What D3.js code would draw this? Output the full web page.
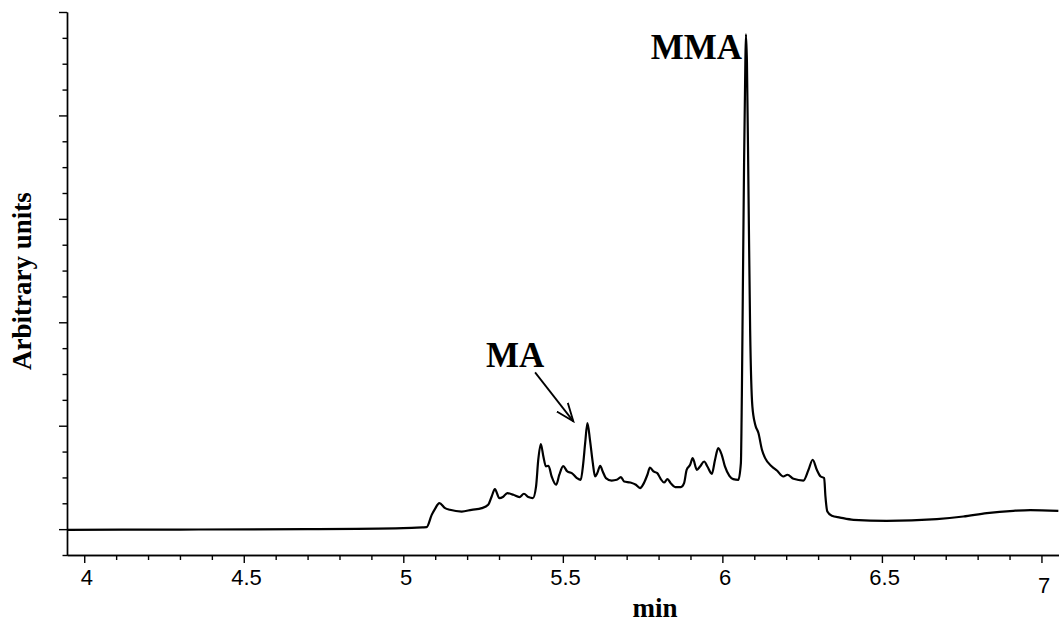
<!DOCTYPE html>
<html>
<head>
<meta charset="utf-8">
<script src="https://cdn.jsdelivr.net/npm/d3@7"></script>
<style>
  body { margin: 0; background: #fff; }
  svg { display: block; }
  .axis path, .axis line { stroke: #000; stroke-width: 1.4; }
  .axis text { font-family: "Liberation Sans", Arial, sans-serif; font-size: 22px; fill: #000; }
  .title { font-family: "Liberation Serif", "Times New Roman", serif; font-weight: bold; fill: #000; }
</style>
</head>
<body>
<div class="container"></div>
<script>
// retention time (min)
var times = [3.946, 4.3, 4.7, 5.0, 5.06, 5.073, 5.089, 5.099, 5.113, 5.131, 5.146, 5.183, 5.214, 5.246,
  5.266, 5.277, 5.287, 5.301, 5.312, 5.326, 5.345, 5.364, 5.378, 5.392, 5.406, 5.416, 5.423, 5.431,
  5.439, 5.447, 5.455, 5.465, 5.479, 5.489, 5.501, 5.514, 5.528, 5.544, 5.556, 5.564, 5.570, 5.577,
  5.585, 5.594, 5.601, 5.608, 5.617, 5.625, 5.635, 5.653, 5.669, 5.682, 5.692, 5.711, 5.729, 5.742,
  5.754, 5.765, 5.773, 5.784, 5.796, 5.807, 5.817, 5.828, 5.838, 5.852, 5.870, 5.880, 5.888, 5.899,
  5.907, 5.920, 5.930, 5.943, 5.953, 5.967, 5.977, 5.987, 5.998, 6.008, 6.022, 6.034, 6.050, 6.058,
  6.061, 6.064, 6.068, 6.072, 6.074, 6.077, 6.082, 6.087, 6.094, 6.103, 6.113, 6.124, 6.134, 6.155,
  6.171, 6.191, 6.204, 6.223, 6.254, 6.270, 6.283, 6.296, 6.308, 6.319, 6.323, 6.329, 6.343, 6.369,
  6.411, 6.515, 6.672, 6.755, 6.829, 6.912, 6.965, 7.053];
// detector signal (arbitrary units)
var signal = [-0.007, -0.004, 0.0, 0.01, 0.017, 0.019, 0.138, 0.194, 0.252, 0.203, 0.187, 0.170, 0.187, 0.203,
  0.235, 0.316, 0.387, 0.300, 0.310, 0.349, 0.332, 0.310, 0.342, 0.310, 0.300, 0.412, 0.671, 0.823,
  0.703, 0.606, 0.613, 0.509, 0.429, 0.526, 0.610, 0.558, 0.542, 0.494, 0.477, 0.639, 0.833, 1.026,
  0.864, 0.639, 0.509, 0.542, 0.613, 0.558, 0.494, 0.470, 0.477, 0.503, 0.461, 0.451, 0.429, 0.397,
  0.445, 0.526, 0.596, 0.558, 0.542, 0.484, 0.451, 0.484, 0.445, 0.407, 0.407, 0.445, 0.574, 0.622,
  0.687, 0.574, 0.606, 0.654, 0.606, 0.535, 0.671, 0.784, 0.719, 0.606, 0.516, 0.484, 0.477, 0.639,
  1.284, 2.252, 3.543, 4.511, 4.785, 4.511, 3.220, 1.929, 1.187, 1.010, 0.929, 0.768, 0.687, 0.606,
  0.567, 0.509, 0.526, 0.487, 0.470, 0.574, 0.671, 0.574, 0.509, 0.494, 0.316, 0.170, 0.129, 0.112,
  0.090, 0.080, 0.097, 0.122, 0.155, 0.177, 0.184, 0.177];

var xTickLabels = [4, 4.5, 5, 5.5, 6, 6.5, 7];
var yMajorTicks = [0, 1, 2, 3, 4, 5];

var peakNames = ["MMA", "MA"];
var peakLabelTime = [6.062, 5.259];
var peakLabelValue = [4.543, 1.571];
var arrowFrom = [5.413, 1.516];
var arrowTo = [5.533, 1.042];

var loadChart = function () {
  var width = 1059, height = 624;
  var left = 67, right = 1059, top = 12, bottom = 555;

  var x = d3.scaleLinear().domain([3.946, 7.055]).range([left, right]);
  var y = d3.scaleLinear().domain([-0.25, 5]).range([bottom, top]);

  var svg = d3.select('.container')
    .append('svg')
    .attr('width', width)
    .attr('height', height);

  // minor x ticks
  var xMinor = d3.range(40, 71).map(function (d) { return d / 10; })
    .filter(function (d) { return xTickLabels.indexOf(d) < 0; });
  svg.append('g')
    .attr('class', 'axis')
    .attr('transform', 'translate(0,' + bottom + ')')
    .call(d3.axisBottom(x).tickValues(xMinor).tickSize(5).tickSizeOuter(0).tickFormat(''));

  var xAxis = svg.append('g')
    .attr('class', 'axis')
    .attr('transform', 'translate(0,' + bottom + ')')
    .call(d3.axisBottom(x).tickValues(xTickLabels).tickSize(8).tickSizeOuter(0)
      .tickPadding(6).tickFormat(d3.format('')));
  xAxis.selectAll('.tick text').attr('dx', '0.1em');
  xAxis.selectAll('.tick').filter(function (d) { return d === 7; })
    .select('text').attr('dy', '1.1em');

  // y axis, no labels
  var yMinor = d3.range(-1, 21).map(function (d) { return d / 4; })
    .filter(function (d) { return yMajorTicks.indexOf(d) < 0; });
  svg.append('g')
    .attr('class', 'axis')
    .attr('transform', 'translate(' + left + ',0)')
    .call(d3.axisLeft(y).tickValues(yMinor).tickSize(4.5).tickSizeOuter(0).tickFormat(''));
  svg.append('g')
    .attr('class', 'axis')
    .attr('transform', 'translate(' + left + ',0)')
    .call(d3.axisLeft(y).tickValues(yMajorTicks).tickSize(8).tickSizeOuter(0).tickFormat(''));

  // axis titles
  svg.append('text')
    .attr('class', 'title')
    .attr('x', 655)
    .attr('y', 617)
    .attr('text-anchor', 'middle')
    .style('font-size', '27px')
    .text('min');

  svg.append('text')
    .attr('class', 'title')
    .attr('transform', 'translate(31,281) rotate(-90)')
    .attr('text-anchor', 'middle')
    .style('font-size', '27px')
    .text('Arbitrary units');

  // chromatogram
  var line = d3.line()
    .x(function (d, i) { return x(times[i]); })
    .y(function (d) { return y(d); })
    .curve(d3.curveMonotoneX);

  svg.append('path')
    .datum(signal)
    .attr('fill', 'none')
    .attr('stroke', '#000')
    .attr('stroke-width', 2.2)
    .attr('stroke-linejoin', 'round')
    .attr('d', line);

  // peak labels
  svg.selectAll('.peak')
    .data(peakNames)
    .enter()
    .append('text')
    .attr('class', 'title peak')
    .attr('x', function (d, i) { return x(peakLabelTime[i]); })
    .attr('y', function (d, i) { return y(peakLabelValue[i]); })
    .attr('text-anchor', function (d, i) { return i === 0 ? 'end' : 'start'; })
    .style('font-size', '35px')
    .text(function (d) { return d; });

  // arrow for MA
  svg.append('defs').append('marker')
    .attr('id', 'head')
    .attr('viewBox', '0 0 20 20')
    .attr('refX', 18)
    .attr('refY', 10)
    .attr('markerWidth', 20)
    .attr('markerHeight', 20)
    .attr('markerUnits', 'userSpaceOnUse')
    .attr('orient', 'auto')
    .append('path')
    .attr('d', 'M0,3 L18,10 L0,17')
    .attr('fill', 'none')
    .attr('stroke', '#000')
    .attr('stroke-width', 1.8);

  svg.append('line')
    .attr('x1', x(arrowFrom[0]))
    .attr('y1', y(arrowFrom[1]))
    .attr('x2', x(arrowTo[0]))
    .attr('y2', y(arrowTo[1]))
    .attr('stroke', '#000')
    .attr('stroke-width', 1.8)
    .attr('marker-end', 'url(#head)');
};
window.onload = loadChart;
</script>
</body>
</html>
